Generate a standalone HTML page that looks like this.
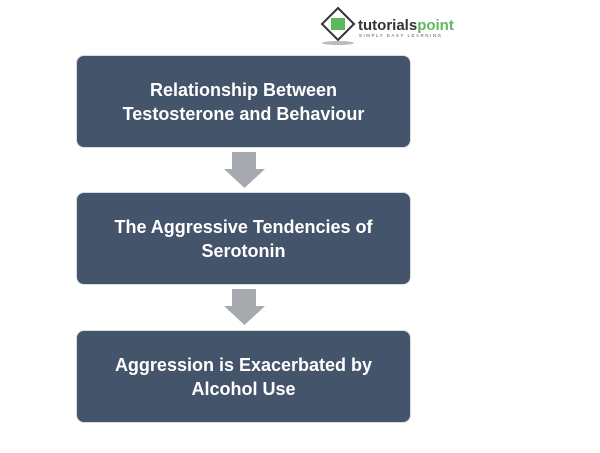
<!DOCTYPE html>
<html><head><style>
body{margin:0;width:600px;height:453px;background:#fff;position:relative;overflow:hidden;font-family:"Liberation Sans",sans-serif}
.b{position:absolute;left:77px;width:333px;height:91px;background:#44546a;border-radius:7px;box-shadow:0 0 0 1px #d9dde3;color:#fff;font-weight:bold;font-size:18px;line-height:24px;display:flex;align-items:center;justify-content:center;text-align:center}
svg{position:absolute}
</style></head><body>
<svg style="left:318px;top:6px" width="150" height="40">
<polygon points="20,2 36,18 20,34 4,18" fill="#fff" stroke="#333" stroke-width="2"/>
<rect x="13" y="12" width="14" height="12" fill="#5cb85c"/>
<ellipse cx="20" cy="37" rx="16" ry="2" fill="#bbb"/>
<text x="40" y="24" font-family="Liberation Sans" font-weight="bold" font-size="15" fill="#333">tutorials<tspan fill="#5cb85c">point</tspan></text>
<text x="41" y="31" font-family="Liberation Sans" font-size="4.5" fill="#555" letter-spacing="1.5">SIMPLY EASY LEARNING</text>
</svg>
<div class="b" style="top:56px">Relationship Between<br>Testosterone and Behaviour</div>
<svg style="left:224px;top:152px" width="41" height="36"><polygon points="8,0 32,0 32,17 41,17 20.5,36 0,17 8,17" fill="#a6a9ae"/></svg>
<div class="b" style="top:193px">The Aggressive Tendencies of<br>Serotonin</div>
<svg style="left:224px;top:289px" width="41" height="36"><polygon points="8,0 32,0 32,17 41,17 20.5,36 0,17 8,17" fill="#a6a9ae"/></svg>
<div class="b" style="top:331px">Aggression is Exacerbated by<br>Alcohol Use</div>
</body></html>
